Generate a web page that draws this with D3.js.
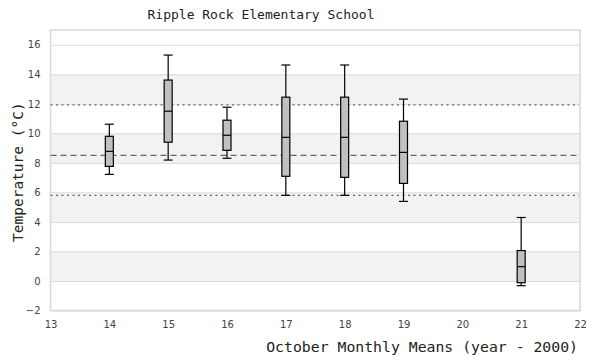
<!DOCTYPE html>
<html><head><meta charset="utf-8">
<script src="https://cdn.jsdelivr.net/npm/d3@7"></script>
<style>body{margin:0;background:#fff}svg{display:block}</style>
</head><body>
<svg id="c" width="600" height="360"></svg>
<script>
const years = [14, 15, 16, 17, 18, 19, 21];
const whiskerLow = [7.22, 8.19, 8.31, 5.80, 5.80, 5.39, -0.32];
const q1 = [7.76, 9.40, 8.85, 7.09, 7.02, 6.61, -0.12];
const medians = [8.78, 11.50, 9.87, 9.73, 9.73, 8.71, 0.97];
const q3 = [9.80, 13.61, 10.89, 12.45, 12.45, 10.82, 2.06];
const whiskerHigh = [10.62, 15.30, 11.77, 14.63, 14.63, 12.32, 4.30];
const overallMean = 8.51;
const sdUpper = 11.93;
const sdLower = 5.80;
const xTicks = [13, 14, 15, 16, 17, 18, 19, 20, 21, 22];
const yTicks = [-2, 0, 2, 4, 6, 8, 10, 12, 14, 16];
const bandStarts = [0, 4, 8, 12];

const svg = d3.select("#c");
const L = 50.5, R = 580, T = 30, B = 310.5;
const x = d3.scaleLinear().domain([13, 22]).range([L, R]);
const y = d3.scaleLinear().domain([-2, 17]).range([B, T]);

// bands
svg.append("g").selectAll("rect").data(bandStarts).join("rect")
  .attr("x", L).attr("width", R - L)
  .attr("y", d => y(d + 2)).attr("height", d => y(d) - y(d + 2))
  .attr("fill", "#f2f2f2");

// y grid via axis
const gy = svg.append("g").attr("transform", `translate(${L},0)`)
  .call(d3.axisLeft(y).tickValues(yTicks).tickSize(-(R - L)).tickPadding(10).tickFormat(d3.format("d")));
gy.select(".domain").remove();
gy.selectAll(".tick line").attr("stroke", "#dcdcdc").attr("stroke-width", 1);
gy.selectAll(".tick text").attr("font-family", "DejaVu Sans").attr("font-size", 10).attr("fill", "#444");

const gx = svg.append("g").attr("transform", `translate(0,${B})`)
  .call(d3.axisBottom(x).tickValues(xTicks).tickSize(0).tickPadding(10).tickFormat(d3.format("d")));
gx.select(".domain").remove();
gx.selectAll(".tick text").attr("font-family", "DejaVu Sans").attr("font-size", 10).attr("fill", "#444");

// border
svg.append("rect").attr("x", L).attr("y", T).attr("width", R - L).attr("height", B - T)
  .attr("fill", "none").attr("stroke", "#d8d8d8").attr("stroke-width", 1.5);

// reference lines
const refs = [
  {v: sdUpper, dash: "2,3.5"},
  {v: overallMean, dash: "6,4"},
  {v: sdLower, dash: "2,3.5"}
];
svg.append("g").selectAll("line").data(refs).join("line")
  .attr("x1", L).attr("x2", R - 1)
  .attr("y1", d => y(d.v)).attr("y2", d => y(d.v))
  .attr("stroke", "#666").attr("stroke-width", 1.2)
  .attr("stroke-dasharray", d => d.dash);

// boxes
const data = years.map((yr, i) => ({yr, lo: whiskerLow[i], q1: q1[i], med: medians[i], q3: q3[i], hi: whiskerHigh[i]}));
const bw = 8, cw = 8;
const g = svg.append("g").selectAll("g").data(data).join("g");
g.append("line").attr("x1", d => x(d.yr)).attr("x2", d => x(d.yr))
  .attr("y1", d => y(d.hi)).attr("y2", d => y(d.lo)).attr("stroke", "#000").attr("stroke-width", 1.2);
g.append("line").attr("x1", d => x(d.yr) - cw / 2 - 0.5).attr("x2", d => x(d.yr) + cw / 2 + 0.5)
  .attr("y1", d => y(d.hi)).attr("y2", d => y(d.hi)).attr("stroke", "#000").attr("stroke-width", 1.2);
g.append("line").attr("x1", d => x(d.yr) - cw / 2 - 0.5).attr("x2", d => x(d.yr) + cw / 2 + 0.5)
  .attr("y1", d => y(d.lo)).attr("y2", d => y(d.lo)).attr("stroke", "#000").attr("stroke-width", 1.2);
g.append("rect").attr("x", d => x(d.yr) - bw / 2).attr("width", bw)
  .attr("y", d => y(d.q3)).attr("height", d => y(d.q1) - y(d.q3))
  .attr("fill", "#c0c0c0").attr("stroke", "#000").attr("stroke-width", 1.2);
g.append("line").attr("x1", d => x(d.yr) - bw / 2).attr("x2", d => x(d.yr) + bw / 2)
  .attr("y1", d => y(d.med)).attr("y2", d => y(d.med)).attr("stroke", "#000").attr("stroke-width", 1.2);

// titles
svg.append("text").attr("x", 261).attr("y", 19).attr("text-anchor", "middle")
  .attr("font-family", "DejaVu Sans Mono").attr("font-size", 13).attr("fill", "#222")
  .text("Ripple Rock Elementary School");
svg.append("text").attr("x", 578).attr("y", 352).attr("text-anchor", "end")
  .attr("font-family", "DejaVu Sans Mono").attr("font-size", 14.8).attr("fill", "#222")
  .text("October Monthly Means (year - 2000)");
svg.append("text").attr("transform", "translate(23,242) rotate(-90)").attr("text-anchor", "start")
  .attr("font-family", "DejaVu Sans Mono").attr("font-size", 14.5).attr("fill", "#222")
  .text("Temperature (°C)");
</script>
</body></html>
